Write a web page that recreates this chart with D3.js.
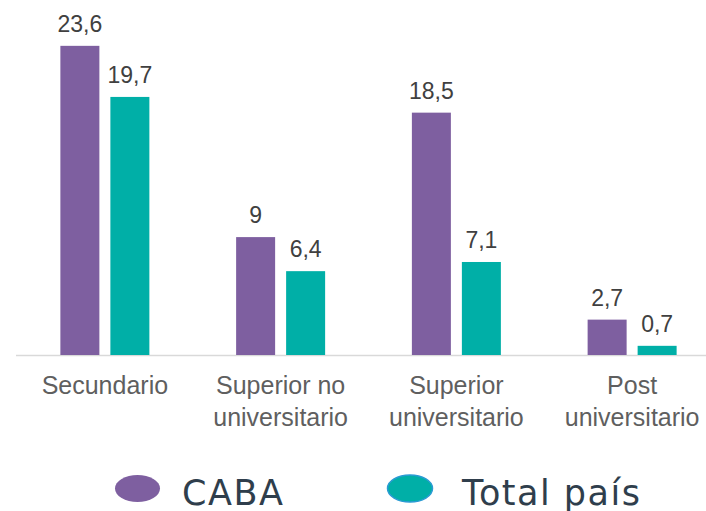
<!DOCTYPE html>
<html lang="es">
  <head>
    <meta charset="UTF-8" />
    <title>CABA vs Total país</title>
    <style>
      html, body { margin: 0; padding: 0; background: #fff; }
      svg { display: block; }
      .value { font-family: "Liberation Sans", Arial, sans-serif; font-size: 23px; fill: #404040; }
      .cat { font-family: "Liberation Sans", Arial, sans-serif; font-size: 25px; fill: #5f5f5f; }
      .legend-label { font-family: "DejaVu Sans", sans-serif; font-size: 35px; letter-spacing: 1.5px; fill: #2f3e4c; }
    </style>
  </head>
  <body>
    <svg width="706" height="511"></svg>
    <script src="https://d3js.org/d3.v7.min.js"></script>
    <script>
      // Data
      const categories = ["Secundario", "Superior no universitario", "Superior universitario", "Post universitario"];
      const categoryLines = [["Secundario"], ["Superior no", "universitario"], ["Superior", "universitario"], ["Post", "universitario"]];
      const series = ["CABA", "Total país"];
      const cabaValues = [23.6, 9, 18.5, 2.7];
      const totalValues = [19.7, 6.4, 7.1, 0.7];

      const colors = { "CABA": "#7e5fa0", "Total país": "#00afa7" };

      const svg = d3.select("svg");
      const baseY = 355;

      const x0 = d3.scaleBand().domain(categories).range([17, 720]);
      const groupW = 89;
      const off = (x0.bandwidth() - groupW) / 2;
      const x1 = d3.scaleBand().domain(series).range([off, off + groupW]).paddingInner(0.22);
      const y = d3.scaleLinear().domain([0, 25]).range([baseY, 27.5]);

      const rows = categories.map((c, i) => ({
        cat: c,
        vals: [
          { s: "CABA", v: cabaValues[i] },
          { s: "Total país", v: totalValues[i] },
        ],
      }));

      // baseline
      svg.append("line")
        .attr("x1", 16).attr("x2", 706)
        .attr("y1", baseY + 0.5).attr("y2", baseY + 0.5)
        .attr("stroke", "#d9d9d9").attr("stroke-width", 1.5);

      const groups = svg.selectAll("g.grp")
        .data(rows)
        .enter()
        .append("g")
        .attr("class", "grp")
        .attr("transform", (d) => "translate(" + x0(d.cat) + ",0)");

      groups.selectAll("rect")
        .data((d) => d.vals)
        .enter()
        .append("rect")
        .attr("x", (d) => x1(d.s))
        .attr("y", (d) => y(d.v))
        .attr("width", x1.bandwidth())
        .attr("height", (d) => baseY - y(d.v))
        .attr("fill", (d) => colors[d.s]);

      groups.selectAll("text.value")
        .data((d) => d.vals)
        .enter()
        .append("text")
        .attr("class", "value")
        .attr("x", (d) => x1(d.s) + x1.bandwidth() / 2)
        .attr("y", (d) => y(d.v) - 14)
        .attr("text-anchor", "middle")
        .text((d) => String(d.v).replace(".", ","));

      // category labels
      groups.each(function (d, i) {
        const t = d3.select(this).append("text")
          .attr("class", "cat")
          .attr("text-anchor", "middle");
        categoryLines[i].forEach((line, j) => {
          t.append("tspan")
            .attr("x", x0.bandwidth() / 2)
            .attr("y", 394 + j * 32)
            .text(line);
        });
      });

      // legend
      const legendX = [137.5, 410];
      const labelDx = [44.5, 52];
      const legend = svg.selectAll("g.legend")
        .data(series)
        .enter()
        .append("g")
        .attr("class", "legend")
        .attr("transform", (d, i) => "translate(" + legendX[i] + ",488.5)");

      legend.append("ellipse")
        .attr("rx", 22.5).attr("ry", 13.5)
        .attr("fill", (d) => colors[d])
        .attr("stroke", (d) => d === "Total país" ? "#2a9bd3" : "none")
        .attr("stroke-width", 1.5);

      legend.append("text")
        .attr("class", "legend-label")
        .attr("x", (d, i) => labelDx[i])
        .attr("y", 16.5)
        .text((d) => d);
    </script>
  </body>
</html>
